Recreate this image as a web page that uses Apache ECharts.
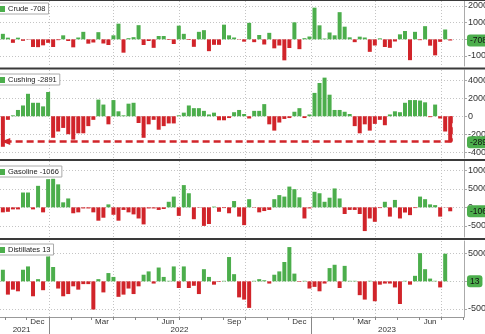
<!DOCTYPE html>
<html><head><meta charset="utf-8">
<script src="https://cdn.jsdelivr.net/npm/echarts@6/dist/echarts.min.js"></script>
<style>html,body{margin:0;padding:0;background:#fff}#c{width:485px;height:334px}</style>
</head><body><div id="c"></div>
<script>
const DAY = 86400000;
const U = (y, m, d) => Date.UTC(y, m - 1, d);

// weekly report dates (week ending), 90 weeks
const firstWeek = U(2021, 10, 29);
const weeks = Array.from({length: 90}, (_, i) => firstWeek + i * 7 * DAY);

// weekly changes, thousand barrels
const crude = [3300,1000,-2100,1000,-900,-200,-4600,-4700,-3600,-2100,
  -4600,-500,2400,-1000,-4800,1100,4500,-2600,-1900,4300,
  -2500,-3400,2400,9400,-8000,700,1300,8500,-3400,-1000,
  -5100,2000,2000,-400,-2800,8200,3300,-400,-4500,4500,
  5500,-7100,-3300,-3300,8800,2400,1100,-200,-1400,9900,
  -1700,2600,-3100,3900,-5400,-3700,-12600,-5200,10200,-5900,
  700,1700,19000,8400,500,4100,2400,16300,7600,1200,
  -1700,1600,1100,-7500,-3700,600,-4600,-5100,-1300,3000,
  5000,-12500,4500,-500,7900,-3800,-9600,-1500,5900,-708];
const cushing = [-3400,-400,100,700,1200,2500,1500,1500,1100,2700,
  -2400,-1700,-1300,-2000,-2600,-1900,-1900,-1100,-400,1850,
  1300,-900,1800,550,100,1400,1500,-750,-2400,-900,
  -400,-1500,-1100,-800,-800,100,400,1200,900,900,
  600,200,400,-450,-450,-200,450,700,250,-250,
  600,600,1350,-900,-1600,-700,-300,-200,500,900,
  -200,200,2600,3700,4300,2400,700,700,500,250,
  -1100,-1900,-900,-1600,-850,-400,-1000,200,550,450,
  1500,1800,1800,1750,1550,-100,1300,-250,-1700,-2891];
const gasoline = [-1350,-1200,-550,-550,4000,4000,-550,5800,-1350,7600,
  7700,6200,1350,2400,-1600,-1350,-300,-300,-1350,-3600,
  -2800,800,-2000,-3600,-700,-1350,-1900,-3000,-4600,-300,
  -300,-700,-450,1500,2900,-2300,6000,3800,-3200,-100,
  -5000,-4500,200,-1200,-200,-1600,1700,-2500,-4800,2200,
  -100,-1350,-1000,-700,2200,3300,2900,5600,4900,2700,
  -3000,-300,4200,3800,1500,2600,5100,2400,-1800,-700,
  -700,-1800,-6400,-3000,-3900,-200,1500,-2500,2000,-3000,
  -1400,-2100,-200,2900,2200,800,600,-2500,-50,-1066];
const distillates = [2100,-2400,-1500,-1800,2100,2700,-2700,400,-1600,4500,
  2600,-1300,-2700,-2300,-900,-1500,-500,-500,-5100,400,
  -2000,1500,800,-2800,-2400,-1300,-2300,-900,1200,1800,
  -400,2500,800,100,2700,-1200,2700,-1200,-800,-2300,
  2200,800,-600,-100,100,4400,1300,-2900,-3300,-4800,
  100,400,200,-400,1200,1800,3500,6200,1400,-100,
  100,-1300,-1000,-1800,-400,2400,3000,-1200,2800,100,
  100,-2500,-3300,100,-3600,-600,-400,-400,-1100,-4100,
  100,-600,1000,5100,2200,500,100,-1100,5000,13];

// axis ticks
const crudeTicks = [-10000, 0, 10000, 20000];
const cushingTicks = [-4000, -2000, 0, 2000, 4000];
const gasolineTicks = [-5000, 0, 5000, 10000];
const distillatesTicks = [-5000, 0, 5000];
const quarterLines = [U(2022,1,1),U(2022,4,1),U(2022,7,1),U(2022,10,1),U(2023,1,1),U(2023,4,1),U(2023,7,1)];
const monthTicks = [];
for (let y = 2021, m = 11; ; m++) { if (m > 12) { m = 1; y++; } monthTicks.push(U(y, m, 1)); if (y === 2023 && m === 8) break; }
const monthLabels = ['Dec','Mar','Jun','Sep','Dec','Mar','Jun'];
const monthLabelDates = [U(2021,12,16),U(2022,3,16),U(2022,6,16),U(2022,9,16),U(2022,12,16),U(2023,3,16),U(2023,6,16)];
const yearLabels = ['2021','2022','2023'];
const yearLabelDates = [U(2021,11,24),U(2022,7,2),U(2023,4,17)];
const yearLines = [U(2022,1,1),U(2023,1,1)];

const xMin = U(2021,10,25), xMax = U(2023,8,2) + 5 * 3600000;
const G = '#4cae4c', R = '#d1242a';
const FONT = 'Liberation Sans, Arial, sans-serif';

const panels = [
  {name:'Crude', data:crude, ticks:crudeTicks, min:-16000, max:23000, top:1, height:65, legendTop:3},
  {name:'Cushing', data:cushing, ticks:cushingTicks, min:-4650, max:5150, top:70, height:88, legendTop:74},
  {name:'Gasoline', data:gasoline, ticks:gasolineTicks, min:-8000, max:12500, top:161, height:76, legendTop:166},
  {name:'Distillates', data:distillates, ticks:distillatesTicks, min:-6450, max:7300, top:241, height:76, legendTop:244}
];

const grid = panels.map(p => ({left:0, right:21, top:p.top, height:p.height, containLabel:false, outerBoundsMode:'none'}));
const xAxis = panels.map((p, i) => ({
  type:'value', gridIndex:i, min:xMin, max:xMax,
  axisLine:{show:i===3, onZero:false, lineStyle:{color:'#999', width:1}},
  axisTick:{show:false, customValues:quarterLines},
  axisLabel:{show:false},
  splitLine:{show:true, lineStyle:{color:'#c4c4c4', type:[1,2], width:1}}
}));
xAxis.push({
  type:'value', gridIndex:3, min:xMin, max:xMax, position:'bottom',
  axisLine:{show:false, onZero:false},
  axisTick:{show:true, customValues:monthTicks, length:3, lineStyle:{color:'#888'}},
  axisLabel:{show:true, customValues:monthLabelDates, margin:1, fontSize:8, fontFamily:FONT, color:'#333',
    formatter:v => monthLabels[monthLabelDates.indexOf(v)] || ''},
  splitLine:{show:false}
});
xAxis.push({
  type:'value', gridIndex:3, min:xMin, max:xMax, position:'bottom',
  axisLine:{show:false, onZero:false},
  axisTick:{show:true, customValues:yearLines, length:17, lineStyle:{color:'#888'}},
  axisLabel:{show:true, customValues:yearLabelDates, margin:9, fontSize:8, fontFamily:FONT, color:'#333',
    formatter:v => yearLabels[yearLabelDates.indexOf(v)] || ''},
  splitLine:{show:false}
});

const yAxis = panels.map((p, i) => ({
  type:'value', gridIndex:i, position:'right', min:p.min, max:p.max,
  axisLine:{show:true, lineStyle:{color:'#aaa'}},
  axisTick:{show:true, customValues:p.ticks, length:3, lineStyle:{color:'#aaa'}},
  axisLabel:{show:true, customValues:p.ticks, margin:4, fontSize:9, fontFamily:FONT, color:'#333', formatter:v => String(v)},
  splitLine:{show:true, lineStyle:{color:'#c4c4c4', type:[1,2], width:1}}
}));

const series = panels.map((p, i) => {
  const last = p.data[p.data.length - 1];
  const ml = [{yAxis:last, lineStyle:{color:'rgba(0,0,0,0)', width:1, type:'solid'},
      label:{show:true, position:'end', distance:3, formatter:String(last),
      backgroundColor:G, color:'#111', padding:[2,3,1,3], borderRadius:3, fontSize:8.5, fontFamily:FONT}}];
  if (p.name === 'Cushing') {
    const xe = weeks[weeks.length - 1] + 2 * DAY, xs = weeks[0] + 4 * DAY, lvl = -2800;
    ml.push([{coord:[xe, 0], symbol:'none'}, {coord:[xe, lvl], symbol:'none'}]);
    ml.push([{coord:[xe, lvl], symbol:'none'}, {coord:[xs, lvl], symbol:'triangle', symbolSize:[7,9], symbolRotate:90}]);
  }
  return {
    name:p.name, type:'bar', xAxisIndex:i, yAxisIndex:i, barWidth:4,
    itemStyle:{color:G},
    data: weeks.map((t, k) => ({value:[t, p.data[k]], itemStyle:{color: p.data[k] >= 0 ? G : R}})),
    markLine:{silent:true, symbol:'none', animation:false,
      label:{show:false},
      lineStyle:{color:R, type:[7,4], width:2.5}, data:ml},
    animation:false
  };
});

const legend = panels.map(p => ({
  data:[p.name], left:-3, top:p.legendTop, selectedMode:false,
  backgroundColor:'#fff', borderColor:'#aaa', borderWidth:1, padding:[2,3,1,2],
  itemWidth:6, itemHeight:6, itemGap:2, icon:'rect',
  textStyle:{fontSize:7.5, fontFamily:FONT, color:'#222', padding:[0,0,0,-2]},
  formatter: n => n + ' ' + p.data[p.data.length - 1]
}));

const sep = [0, 67.5, 159, 238];
const graphic = sep.map((y, i) => ({type:'rect', silent:true, z:100,
  shape:{x:0, y:y, width:485, height: i === 0 ? 1 : 2}, style:{fill:'#3a3a3a'}}));

const chart = echarts.init(document.getElementById('c'), null, {renderer:'canvas'});
chart.setOption({animation:false, backgroundColor:'#fff', grid, xAxis, yAxis, series, legend, graphic});
</script></body></html>
